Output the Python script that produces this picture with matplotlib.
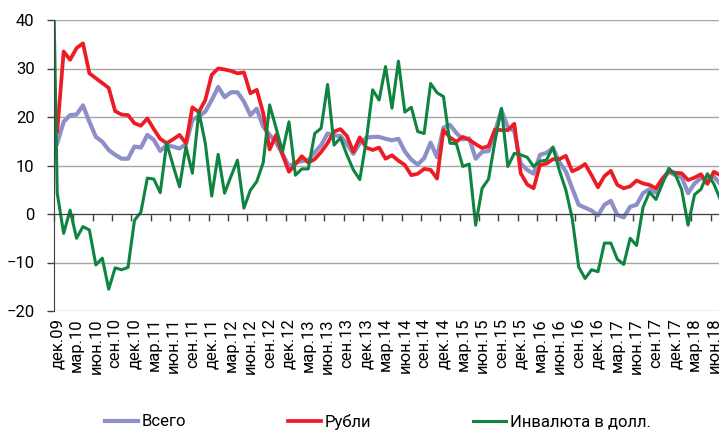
import numpy as np
import matplotlib
matplotlib.use("Agg")
import matplotlib.pyplot as plt

plt.rcParams["font.family"] = ["Roboto", "DejaVu Sans"]

# Quarter labels on the x axis (every 3rd month, дек.09 .. июн.18)
quarter_labels = ["дек.09", "мар.10", "июн.10", "сен.10", "дек.10", "мар.11", "июн.11",
                  "сен.11", "дек.11", "мар.12", "июн.12", "сен.12", "дек.12", "мар.13",
                  "июн.13", "сен.13", "дек.13", "мар.14", "июн.14", "сен.14", "дек.14",
                  "мар.15", "июн.15", "сен.15", "дек.15", "мар.16", "июн.16", "сен.16",
                  "дек.16", "мар.17", "июн.17", "сен.17", "дек.17", "мар.18", "июн.18"]

series_names = ["Всего", "Рубли", "Инвалюта в долл."]

# Monthly values, дек.09 .. июл.18
vsego = [14.6, 19, 20.4, 20.5, 22.4, 19, 15.9, 14.9, 13.2, 12.2, 11.4, 11.4, 13.9, 13.7,
         16.3, 15.3, 13, 14.2, 13.9, 13.5, 14.4, 19.4, 20.2, 21.1, 23.5, 26.2, 24.1, 25.1,
         25.1, 23.2, 20.4, 21.7, 18, 16.3, 14.7, 12.4, 9.8, 10.6, 10.9, 11.1, 12.7, 14.2,
         16.6, 16.2, 16.1, 14.4, 12.4, 14.6, 15.7, 15.9, 15.9, 15.5, 15.2, 15.5, 12.9, 11.2,
         10.2, 11.5, 14.7, 11.7, 17.8, 18.4, 16.7, 15.4, 15.6, 11.4, 12.8, 13, 17, 21.4,
         17.9, 17.1, 10.4, 9.1, 8.3, 12.2, 12.6, 13.6, 10.7, 8.8, 5.3, 1.9, 1.3, 0.7, -0.3,
         1.9, 2.7, -0.2, -0.7, 1.5, 1.9, 4.3, 5.1, 4.4, 7, 8.7, 8, 7.6, 4.3, 6.3, 7.4, 7,
         7.7, 6.2]

rubli = [17, 33.5, 31.8, 34.2, 35.2, 29, 28, 27, 26, 21.2, 20.5, 20.4, 18.7, 18.2, 19.7,
         17.5, 15.5, 14.6, 15.4, 16.3, 14.6, 22, 21, 23.5, 28.7, 30, 29.8, 29.5, 29, 29.2,
         24.9, 25.6, 20.8, 13.3, 16.3, 12.2, 8.7, 10.3, 11.9, 10.6, 11.3, 12.8, 14.6, 17,
         17.5, 16.1, 12.8, 15.8, 13.7, 13.2, 13.7, 11.4, 12.1, 11, 10.1, 8, 8.3, 9.3, 9.1,
         7.3, 17.3, 15.8, 14.9, 15.9, 15.3, 14.4, 13.6, 14, 17.4, 17.3, 17.3, 18.6, 8.4, 6.1,
         5.3, 10.1, 10.4, 11.3, 11.3, 12, 8.8, 9.4, 10.3, 8, 5.5, 7.8, 8.9, 6, 5.3, 5.7, 6.9,
         6.3, 6, 5.3, 7.3, 8.8, 8.5, 8.4, 7, 7.5, 8.2, 6.2, 8.7, 8]

# FX series starts one month earlier (ноя.09, off the scale)
invalyuta = [80, 4.3, -4, 0.8, -5, -2.6, -3.3, -10.5, -9.1, -15.5, -11.1, -11.5, -11, -1.3,
             0.4, 7.4, 7.2, 4.4, 14.6, 10, 5.6, 13.9, 8.4, 21.1, 14.6, 3.7, 12.3, 4.3, 7.8,
             11.1, 1.2, 4.9, 6.7, 10.6, 22.5, 17.7, 12.9, 19, 8, 9.3, 9.3, 16.6, 17.7, 26.7,
             14.2, 15.7, 12.2, 9.1, 7.1, 15, 25.6, 23.5, 30.4, 21.8, 31.5, 21, 22, 17, 16.6,
             26.9, 25, 24.2, 14.6, 14.5, 9.8, 10.3, -2.3, 5.3, 7.2, 15, 21.8, 9.8, 12.5, 12.2,
             11.7, 9.8, 10.9, 11.1, 13.8, 9, 5, -0.9, -10.9, -13.3, -11.5, -11.9, -6, -6, -9.3,
             -10.4, -5, -6.5, 1.4, 4.5, 3, 6.2, 9.4, 8.2, 5, -2.3, 4, 5.1, 8.3, 6.2, 3]

x = np.arange(len(vsego))
x_fx = np.arange(len(invalyuta)) - 1

fig = plt.figure(figsize=(7.19, 4.33), dpi=100)
ax = fig.add_axes([54 / 719, 1 - 311 / 433, 1 - 54 / 719, 291 / 433])

l1, = ax.plot(x, vsego, color="#8C8FC8", lw=3.0, solid_joinstyle="round")
l2, = ax.plot(x, rubli, color="#ED1C24", lw=2.7, solid_joinstyle="round")
l3, = ax.plot(x_fx, invalyuta, color="#0E8440", lw=2.2, solid_joinstyle="round")

ax.set_ylim(-20, 40)
ax.set_xlim(-0.5, 102.8)
ax.set_yticks(range(-20, 41, 10))
ax.yaxis.grid(True, color="#A6A6A6", lw=1.0)
ax.set_axisbelow(True)
ax.tick_params(axis="y", length=5, width=1, color="#404040", pad=9, labelsize=12)

for s in ["top", "right"]:
    ax.spines[s].set_visible(False)
ax.spines["left"].set_color("#404040")
ax.spines["bottom"].set_position(("data", 0))
ax.spines["bottom"].set_color("#404040")

# tick marks on the zero line between quarters
ax.set_xticks(np.arange(-0.5, len(vsego), 3))
ax.tick_params(axis="x", length=5, width=1, color="#404040", labelbottom=False)

# quarter labels at the bottom
sec = ax.secondary_xaxis("bottom")
sec.set_xticks(np.arange(0, 3 * len(quarter_labels), 3), labels=quarter_labels, rotation=90)
sec.tick_params(length=0, pad=5, labelsize=12)
sec.spines["bottom"].set_visible(False)

# legend entries placed like the original (one per entry)
for line, name, left in zip([l1, l2, l3], series_names, [105, 288, 473]):
    fig.legend([line], [name], loc="center left", bbox_to_anchor=(left / 719, 11 / 433),
               frameon=False, fontsize=12, borderpad=0, borderaxespad=0,
               handlelength=2.0, handletextpad=0.2)

fig.savefig("out.png", dpi=100)
